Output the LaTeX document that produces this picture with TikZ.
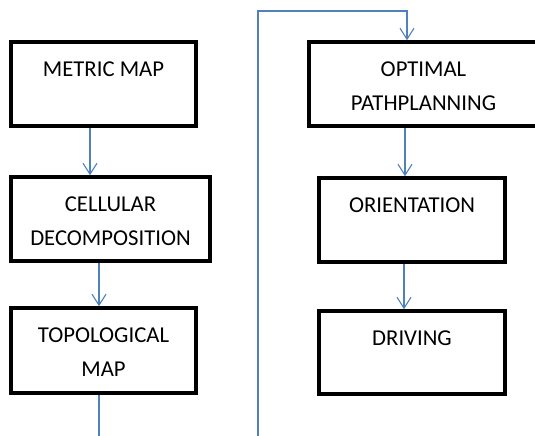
\documentclass[tikz,border=0pt]{standalone}
\usepackage{fontspec}
\setmainfont{Carlito}
\usetikzlibrary{arrows.meta}
\definecolor{flowblue}{RGB}{79,129,189}

\begin{document}
\begin{tikzpicture}[x=1pt,y=-1pt,
  stage/.style={draw,line width=3.5pt,minimum height=84pt,inner sep=0pt},
  caption/.style={anchor=north,align=center,inner sep=0pt,yshift=-21.5pt,
    font=\fontsize{22.7}{34}\selectfont},
  flow/.style={flowblue,line width=1.1pt},
  arr/.style={flow,-{Straight Barb[length=11pt,width=14pt]}}]
  \useasboundingbox (0,0) rectangle (535,436);
  \clip (0,0) rectangle (535,436);

  %left column
  \node[stage,minimum width=185pt,label={[caption]north:METRIC MAP}] (metric) at (103.5,84) {};
  \node[stage,minimum width=199pt,label={[caption]north:CELLULAR\\DECOMPOSITION}] (cellular) at (110.5,219) {};
  \node[stage,minimum width=185pt,minimum height=85pt,label={[caption]north:TOPOLOGICAL\\MAP}] (topo) at (103.5,350.5) {};

  %right column
  \node[stage,minimum width=229pt,label={[caption]north:OPTIMAL\\PATHPLANNING}] (optimal) at (423.5,84) {};
  \node[stage,minimum width=186pt,label={[caption]north:ORIENTATION}] (orient) at (412,220) {};
  \node[stage,minimum width=186pt,minimum height=83pt,label={[caption]north:DRIVING}] (driving) at (412,352.5) {};

  %loose ends of the loop
  \coordinate (cutA) at (99,440);
  \coordinate (cutB) at (258,440);
  \coordinate (top) at (258,11);

  \draw[arr] ([xshift=-13.5pt]metric.south) -- ([xshift=-13.5pt]metric.south |- cellular.north);
  \draw[arr] ([xshift=-11.5pt]cellular.south) -- ([xshift=-11.5pt]cellular.south |- topo.north);
  \draw[flow] ([xshift=-4.5pt]topo.south) -- (cutA);
  \draw[arr] (cutB) -- (top) -| ([xshift=-16.5pt]optimal.north);
  \draw[arr] ([xshift=-18.5pt]optimal.south) -- ([xshift=-18.5pt]optimal.south |- orient.north);
  \draw[arr] ([xshift=-8pt]orient.south) -- ([xshift=-8pt]orient.south |- driving.north);
\end{tikzpicture}
\end{document}
